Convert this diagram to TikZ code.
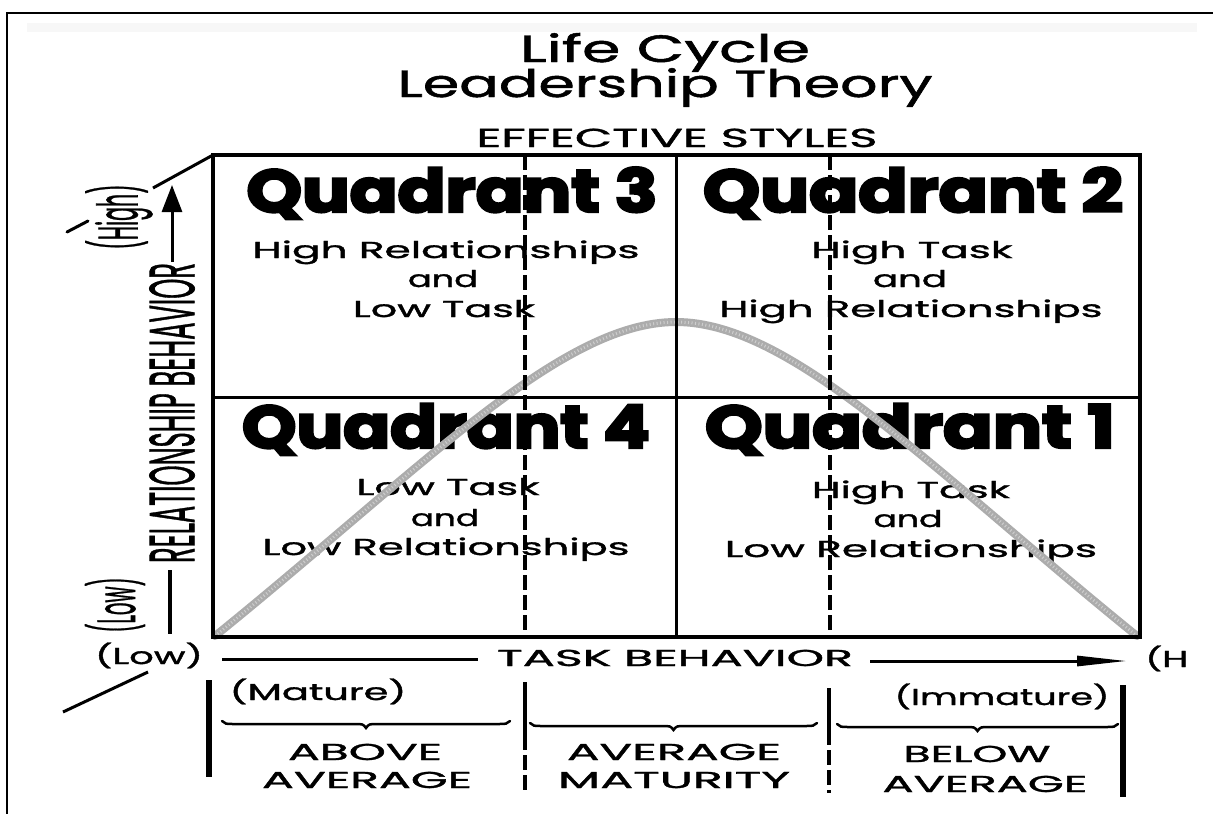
\documentclass[tikz,border=0pt]{standalone}
\usepackage{fontspec}
\setmainfont{Poppins}[FakeBold=1.2]
\newfontfamily\quadfont{Poppins}[BoldFeatures={FakeBold=4}]
\usepackage{graphicx}
\usetikzlibrary{arrows.meta}
\newcommand{\fitw}[2]{\resizebox{#1}{\height}{#2}}
\newcommand{\mbrace}[3]{%
  \draw[brc] (#1,#3-3) .. controls (#1+3,#3) .. (#1+14,#3)
    -- ({(#1+#2)/2-12},#3) .. controls ({(#1+#2)/2-3},#3) .. ({(#1+#2)/2},#3+4)
    .. controls ({(#1+#2)/2+3},#3) .. ({(#1+#2)/2+12},#3)
    -- (#2-14,#3) .. controls (#2-3,#3) .. (#2,#3-3);}
\begin{document}
\begin{tikzpicture}[x=1pt,y=-1pt,
  txt/.style={inner sep=0pt,anchor=base},
  rtxt/.style={inner sep=0pt,rotate=90},
  title/.style={txt,font=\fontsize{38}{40}\selectfont},
  quad/.style={txt,font=\quadfont\bfseries\fontsize{60}{60}\selectfont},
  body/.style={txt,font=\fontsize{23}{29}\selectfont},
  axis/.style={txt,font=\fontsize{23}{27}\selectfont},
  frame/.style={line width=2pt,black},
  boxline/.style={line width=3.5pt,black},
  midline/.style={line width=3pt,black},
  dashline/.style={line width=3.5pt,black,dash pattern=on 15pt off 5pt},
  bar/.style={line width=6pt,black},
  brc/.style={line width=2.5pt,line cap=round},
  bell/.style={line width=8pt,gray!65,line cap=round},
  bellspeck/.style={line width=3pt,white,opacity=0.4,dash pattern=on 1pt off 2.5pt}
]
\useasboundingbox (0,0) rectangle (1213,814);
\fill[white] (0,0) rectangle (1213,814);
% page frame
\fill[gray!6] (27,23) rectangle (1197,32);
\draw[frame] (7,814) -- (7,13) -- (1213,13);

% titles
\node[title] (t1) at (665,62) {\fitw{290pt}{Life Cycle}};
\node[title] (t2) at (665,97) {\fitw{535pt}{Leadership Theory}};
\node[txt,font=\fontsize{26}{30}\selectfont] (eff) at (677,147) {\fitw{401pt}{EFFECTIVE STYLES}};

% quadrant titles
\node[quad] (q3) at (452,212) {\fitw{411pt}{Quadrant 3}};
\node[quad] (q2) at (913,212) {\fitw{420pt}{Quadrant 2}};
\node[quad] (q4) at (446,448) {\fitw{408pt}{Quadrant 4}};
\node[quad] (q1) at (910,448) {\fitw{410pt}{Quadrant 1}};

% quadrant bodies
\node[body] (q3a) at (446,258) {\fitw{387pt}{High Relationships}};
\node[body] (q3b) at (443,287) {\fitw{70pt}{and}};
\node[body] (q3c) at (444,317) {\fitw{182pt}{Low Task}};
\node[body] (q2a) at (912,258) {\fitw{201pt}{High Task}};
\node[body] (q2b) at (910,287) {\fitw{74pt}{and}};
\node[body] (q2c) at (911,317) {\fitw{383pt}{High Relationships}};
\node[body] (q4a) at (448,495) {\fitw{183pt}{Low Task}};
\node[body] (q4b) at (445,526) {\fitw{68pt}{and}};
\node[body] (q4c) at (446,555) {\fitw{367pt}{Low Relationships}};
\node[body] (q1a) at (911,498) {\fitw{198pt}{High Task}};
\node[body] (q1b) at (908,527) {\fitw{69pt}{and}};
\node[body] (q1c) at (911,557) {\fitw{372pt}{Low Relationships}};

% bell curve
\draw[bell] (215,636) .. controls (420,470) and (560,322) .. (676,322)
            .. controls (792,322) and (932,470) .. (1137,636);
\draw[bellspeck] (215,636) .. controls (420,470) and (560,322) .. (676,322)
            .. controls (792,322) and (932,470) .. (1137,636);

% box
\coordinate (tl) at (213,155);
\coordinate (br) at (1140,637);
\draw[boxline] (tl) rectangle (br);
\draw[midline] (676,155) -- (676,637);
\draw[midline] (213,397) -- (1140,397);
\draw[dashline] (525,155) -- (525,637);
\draw[dashline] (830,155) -- (830,637);

% left axis
\draw[midline] (153,188) -- (213,155);
\draw[midline,line cap=round] (67,232) -- (88,221);
\node[rtxt,font=\fontsize{24}{24}\selectfont] (high) at (119,217) {\resizebox{65pt}{52pt}{(High)}};
\coordinate (ra0) at (172,262);
\coordinate (ra1) at (172,185);
\draw[midline,-{Triangle[length=27pt,width=20pt]}] (ra0) -- (ra1);
\node[rtxt,font=\fontsize{22}{22}\selectfont] (rel) at (172,413) {\resizebox{300pt}{45pt}{RELATIONSHIP BEHAVIOR}};
\draw[line width=4pt] (170,570) -- (170,634);
\node[rtxt,font=\fontsize{23}{23}\selectfont] (lowv) at (115,605) {\resizebox{55pt}{50pt}{(Low)}};

% bottom axis
\node[axis] (lowh) at (149,664) {\fitw{108pt}{(Low)}};
\draw[midline] (222,659) -- (478,659);
\node[axis] (task) at (675,666) {\fitw{356pt}{TASK BEHAVIOR}};
\coordinate (ta0) at (870,661);
\coordinate (ta1) at (1127,661);
\draw[midline,-{Triangle[length=50pt,width=10pt]}] (ta0) -- (ta1);
\node[axis,anchor=base west] (hh) at (1145,667) {\fitw{43pt}{(H}};
\draw[midline] (63,712) -- (148,672);

% maturity scale
\draw[bar] (209,680) -- (209,777);
\draw[bar] (1123,685) -- (1123,797);
\draw[line width=4pt] (525,682) -- (525,735);
\draw[dashline] (525,735) -- (525,793);
\draw[line width=4pt] (829,688) -- (829,730);
\draw[dashline] (829,730) -- (829,793);
\node[axis] (mat) at (318,700) {\fitw{177pt}{(Mature)}};
\node[axis] (imm) at (1002,705) {\fitw{215pt}{(Immature)}};
\mbrace{222}{510}{724}
\mbrace{530}{817}{726}
\mbrace{837}{1118}{727}
\node[axis] (ab1) at (365,760) {\fitw{154pt}{ABOVE}};
\node[axis] (ab2) at (367,788) {\fitw{210pt}{AVERAGE}};
\node[axis] (am1) at (674,760) {\fitw{214pt}{AVERAGE}};
\node[axis] (am2) at (674,788) {\fitw{232pt}{MATURITY}};
\node[axis] (be1) at (977,762) {\fitw{147pt}{BELOW}};
\node[axis] (be2) at (985,792) {\fitw{205pt}{AVERAGE}};
\end{tikzpicture}
\end{document}
